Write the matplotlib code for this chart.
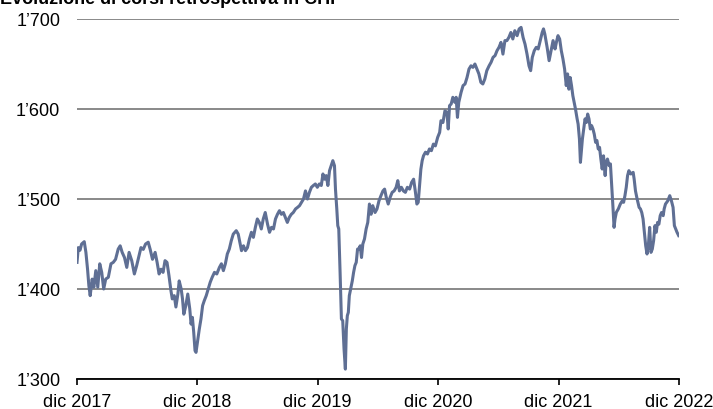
import numpy as np
import matplotlib.pyplot as plt
import pandas as pd
from matplotlib.ticker import FuncFormatter

plt.rcParams['font.family'] = ['Liberation Sans', 'DejaVu Sans']

# Serie storica del corso (CHF), giorni contati dal 29.12.2017
inizio = "2017-12-29"
giorni = [
    0, 4, 9, 14, 22, 27, 32, 36, 40, 46, 51, 57, 63, 69, 75, 81, 87, 95, 103, 110,
    117, 125, 131, 137, 144, 151, 158, 166, 174, 181, 188, 194, 201, 208, 216, 222,
    229, 237, 243, 249, 255, 261, 267, 273, 279, 285, 289, 295, 300, 306, 310, 316,
    320, 324, 330, 336, 342, 346, 350, 354, 358, 361, 366, 371, 376, 381, 386, 392,
    398, 404, 410, 417, 424, 432, 438, 444, 450, 456, 462, 468, 474, 483, 489, 495,
    499, 505, 511, 517, 523, 529, 535, 541, 547, 553, 559, 565, 571, 578, 584, 590,
    596, 602, 608, 614, 620, 626, 632, 638, 644, 650, 656, 663, 669, 675, 681, 687,
    693, 699, 705, 711, 717, 723, 729, 735, 741, 746, 751, 756, 761, 766, 771, 776,
    781, 784, 788, 791, 794, 796, 798, 800, 802, 806, 810, 814, 817, 820, 823, 826,
    831, 835, 839, 843, 847, 851, 855, 859, 863, 867, 872, 877, 882, 887, 892, 897,
    904, 910, 916, 922, 928, 933, 938, 944, 950, 956, 962, 968, 973, 978, 984, 990,
    996, 1002, 1009, 1015, 1021, 1026, 1031, 1035, 1039, 1043, 1047, 1051, 1057, 1063,
    1069, 1075, 1081, 1087, 1094, 1100, 1104, 1110, 1116, 1122, 1126, 1130, 1135, 1140,
    1146, 1150, 1154, 1158, 1165, 1171, 1177, 1183, 1189, 1195, 1201, 1207, 1213, 1219,
    1225, 1231, 1237, 1243, 1250, 1256, 1262, 1268, 1274, 1280, 1286, 1292, 1298, 1304,
    1310, 1316, 1322, 1328, 1335, 1341, 1347, 1353, 1359, 1365, 1371, 1376, 1381, 1387,
    1393, 1399, 1405, 1411, 1415, 1419, 1426, 1432, 1438, 1444, 1450, 1454, 1459, 1464,
    1469, 1474, 1479, 1484, 1488, 1492, 1496, 1500, 1504, 1508, 1512, 1517, 1520, 1524,
    1527, 1530, 1533, 1537, 1541, 1545, 1549, 1553, 1557, 1561, 1565, 1569, 1573, 1577,
    1581, 1585, 1589, 1593, 1597, 1602, 1605, 1609, 1614, 1618, 1622, 1626, 1629, 1632,
    1636, 1642, 1648, 1654, 1658, 1662, 1666, 1670, 1674, 1680, 1687, 1690, 1694, 1699,
    1705, 1709, 1713, 1717, 1721, 1725, 1729, 1733, 1737, 1741, 1745, 1749, 1753, 1757,
    1761, 1765, 1769, 1773, 1778, 1781, 1785, 1792, 1798, 1803, 1808, 1812, 1816, 1820,
    1825,
]
valori = [
    1429.6, 1446.0, 1443.0, 1450.0, 1452.6, 1440.7, 1422.0, 1403.7, 1392.6, 1411.0,
    1402.0, 1420.4, 1402.0, 1428.0, 1418.5, 1400.0, 1411.0, 1413.0, 1428.0, 1429.6,
    1433.0, 1444.4, 1448.0, 1440.7, 1435.0, 1424.0, 1440.7, 1431.5, 1416.7, 1426.0,
    1437.0, 1446.0, 1444.0, 1450.0, 1452.0, 1444.0, 1433.0, 1440.7, 1429.6, 1416.7,
    1422.0, 1418.5, 1431.5, 1429.6, 1414.8, 1398.0, 1389.0, 1392.6, 1380.0, 1394.4,
    1409.0, 1400.0, 1389.0, 1372.0, 1381.5, 1394.4, 1378.0, 1361.0, 1368.5, 1352.0,
    1331.5, 1329.6, 1342.6, 1355.6, 1366.7, 1381.5, 1387.0, 1392.6, 1400.0, 1407.4,
    1413.0, 1418.5, 1416.7, 1424.0, 1428.0, 1420.4, 1428.0, 1439.0, 1444.4, 1453.7,
    1461.0, 1464.8, 1461.0, 1450.0, 1442.6, 1448.0, 1442.6, 1446.0, 1455.6, 1463.0,
    1457.4, 1468.5, 1477.8, 1474.0, 1466.7, 1477.8, 1485.0, 1472.0, 1463.0, 1468.5,
    1466.7, 1477.8, 1483.0, 1487.0, 1483.0, 1485.0, 1479.6, 1474.0, 1479.6, 1483.0,
    1485.0, 1489.0, 1490.7, 1492.6, 1496.3, 1500.0, 1509.0, 1500.0, 1507.4, 1513.0,
    1515.0, 1516.7, 1513.0, 1516.7, 1515.0, 1527.8, 1522.0, 1526.0, 1515.0, 1531.5,
    1537.0, 1542.6, 1537.0, 1511.0, 1489.0, 1470.4, 1466.7, 1444.4, 1418.5, 1392.6,
    1366.7, 1364.8, 1333.3, 1311.0, 1355.6, 1370.4, 1374.0, 1392.6, 1402.0, 1409.0,
    1418.5, 1426.0, 1429.6, 1444.4, 1444.4, 1448.0, 1435.0, 1450.0, 1455.6, 1466.7,
    1474.0, 1494.4, 1483.0, 1492.6, 1485.0, 1489.0, 1498.0, 1503.7, 1509.0, 1511.0,
    1502.0, 1494.4, 1502.0, 1507.4, 1509.0, 1513.0, 1520.4, 1509.0, 1513.0, 1509.0,
    1507.4, 1513.0, 1511.0, 1518.5, 1522.0, 1509.0, 1494.4, 1496.3, 1515.0, 1533.0,
    1542.6, 1548.0, 1552.0, 1550.0, 1555.6, 1553.7, 1561.0, 1559.0, 1568.5, 1574.0,
    1587.0, 1585.0, 1598.0, 1596.3, 1577.8, 1603.7, 1605.6, 1613.0, 1607.4, 1613.0,
    1590.7, 1607.4, 1618.5, 1626.0, 1627.8, 1635.0, 1644.4, 1648.0, 1646.3, 1650.0,
    1644.4, 1639.0, 1629.6, 1627.8, 1633.3, 1642.6, 1648.0, 1651.9, 1657.4, 1659.3,
    1664.8, 1668.5, 1674.0, 1661.0, 1676.0, 1676.0, 1679.6, 1685.0, 1677.8, 1687.0,
    1681.5, 1688.9, 1690.7, 1679.6, 1672.0, 1661.0, 1648.0, 1642.6, 1657.4, 1664.8,
    1668.5, 1666.7, 1676.0, 1685.0, 1689.0, 1683.3, 1668.5, 1653.7, 1664.8, 1676.0,
    1666.7, 1674.0, 1681.5, 1677.8, 1664.8, 1655.6, 1644.4, 1626.0, 1639.0, 1622.0,
    1635.0, 1626.0, 1614.8, 1607.4, 1600.0, 1589.0, 1583.3, 1566.7, 1540.7, 1553.7,
    1566.7, 1577.8, 1589.0, 1585.0, 1594.4, 1589.0, 1577.8, 1581.5, 1577.8, 1572.0,
    1563.0, 1565.0, 1555.6, 1557.4, 1544.4, 1533.3, 1548.0, 1526.0, 1540.7, 1544.4,
    1537.0, 1539.0, 1515.0, 1489.0, 1468.5, 1477.8, 1485.2, 1489.0, 1494.4, 1498.0,
    1496.3, 1503.7, 1513.0, 1526.0, 1531.5, 1527.8, 1529.6, 1522.0, 1509.0, 1500.0,
    1490.7, 1489.0, 1485.0, 1477.8, 1463.0, 1448.0, 1438.9, 1448.0, 1468.5, 1440.7,
    1444.4, 1453.7, 1470.4, 1463.0, 1474.0, 1472.0, 1481.5, 1485.0, 1481.5, 1489.0,
    1494.4, 1498.0, 1503.7, 1498.0, 1490.7, 1470.4, 1466.7, 1463.0, 1459.3,
]

tick_date = ["2017-12-29", "2018-12-29", "2019-12-29", "2020-12-29", "2021-12-29", "2022-12-29"]
tick_label = ["dic 2017", "dic 2018", "dic 2019", "dic 2020", "dic 2021", "dic 2022"]

date = pd.Timestamp(inizio) + pd.to_timedelta(giorni, unit="D")

fig = plt.figure(figsize=(7.13, 4.10), dpi=100)
ax = fig.add_axes([77 / 713, 30 / 410, 602 / 713, 360 / 410])

ax.plot(date, valori, color="#5f6f94", lw=2.2, solid_joinstyle="round", zorder=3)

ax.set_ylim(1300, 1700)
ax.set_yticks(np.arange(1300, 1701, 100))
ax.yaxis.set_major_formatter(FuncFormatter(lambda v, p: f"{int(v) // 1000}\u2019{int(v) % 1000:03d}"))
ax.set_xlim(pd.Timestamp(tick_date[0]), pd.Timestamp(tick_date[-1]))
ax.set_xticks(pd.to_datetime(tick_date))
ax.set_xticklabels(tick_label)

ax.grid(axis="y", color="#808080", lw=1.3)
ax.set_axisbelow(True)
for s in ["top", "right", "left"]:
    ax.spines[s].set_visible(False)
ax.spines["bottom"].set_color("black")
ax.spines["bottom"].set_linewidth(1.3)
ax.spines["bottom"].set_zorder(4)

ax.tick_params(axis="y", length=0, pad=12, labelsize=13)
ax.tick_params(axis="x", direction="out", length=4, width=1.2, pad=6, labelsize=13)

fig.text(0.0, 1 - 4 / 410, "Evoluzione di corsi retrospettiva in CHF",
         fontsize=13, fontweight="bold", ha="left", va="baseline")

plt.savefig("out.png", dpi=100)
plt.close()
